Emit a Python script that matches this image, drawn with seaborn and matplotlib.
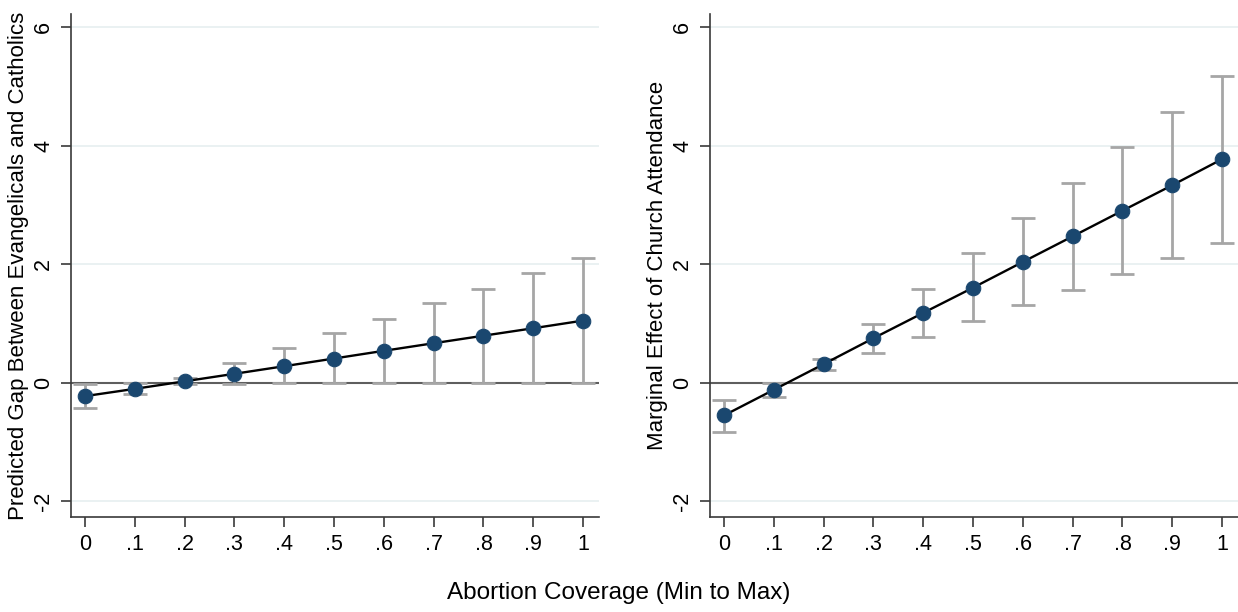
import matplotlib
matplotlib.use("Agg")
import matplotlib.pyplot as plt
import seaborn as sns
import pandas as pd

# Abortion coverage, scaled from minimum (0) to maximum (1)
coverage = [0.0, 0.1, 0.2, 0.3, 0.4, 0.5, 0.6, 0.7, 0.8, 0.9, 1.0]
coverage_labels = ["0", ".1", ".2", ".3", ".4", ".5", ".6", ".7", ".8", ".9", "1"]

# Predicted gap between Evangelicals and Catholics, with confidence bounds
gap = [-0.23, -0.107, 0.02, 0.147, 0.275, 0.405, 0.535, 0.663, 0.79, 0.916, 1.045]
gap_lo = [-0.43, -0.19, -0.03, -0.02, -0.01, -0.01, 0.0, 0.0, 0.0, 0.0, 0.0]
gap_hi = [-0.03, -0.005, 0.07, 0.33, 0.58, 0.83, 1.08, 1.34, 1.585, 1.84, 2.10]

# Marginal effect of church attendance, with confidence bounds
effect = [-0.556, -0.123, 0.31, 0.747, 1.175, 1.60, 2.035, 2.467, 2.90, 3.33, 3.77]
effect_lo = [-0.83, -0.25, 0.21, 0.50, 0.77, 1.03, 1.30, 1.56, 1.83, 2.10, 2.36]
effect_hi = [-0.29, -0.01, 0.405, 0.98, 1.58, 2.18, 2.78, 3.37, 3.975, 4.57, 5.18]

y_ticks = [-2, 0, 2, 4, 6]
y_tick_labels = ["-2", "0", "2", "4", "6"]

panels = [
    ("Predicted Gap Between Evangelicals and Catholics", gap, gap_lo, gap_hi),
    ("Marginal Effect of Church Attendance", effect, effect_lo, effect_hi),
]

sns.set_theme(style="white")
plt.rcParams["font.family"] = ["Liberation Sans", "DejaVu Sans"]

MARKER = "#1a476f"
CI_GREY = "#a6a6a6"
GRID = "#e8f0f1"
AXIS = "#3a3a3a"

fig = plt.figure(figsize=(12.38, 6.12), dpi=100)
fig.patch.set_facecolor("white")
ax_w = 528 / 1238
ax_h = 503 / 612
ax_b = 95 / 612
lefts = [71 / 1238, 710 / 1238]

for left, (ylabel, est, lo, hi) in zip(lefts, panels):
    ax = fig.add_axes([left, ax_b, ax_w, ax_h])
    df = pd.DataFrame({"coverage": coverage, "est": est, "lo": lo, "hi": hi})

    for yt in y_ticks:
        if yt != 0:
            ax.axhline(yt, color=GRID, lw=1.3, zorder=0)
    ax.axhline(0, color="#5e5e5e", lw=1.5, zorder=1)

    yerr = [df["est"] - df["lo"], df["hi"] - df["est"]]
    ax.errorbar(df["coverage"], df["est"], yerr=yerr, fmt="none",
                ecolor=CI_GREY, elinewidth=2.0, capsize=8.5, capthick=2.0,
                zorder=2)
    sns.lineplot(data=df, x="coverage", y="est", ax=ax, color="black",
                 lw=1.7, marker="o", markersize=10.5,
                 markerfacecolor=MARKER, markeredgecolor=MARKER,
                 zorder=3)

    ax.set_xlim(-0.028, 1.032)
    ax.set_ylim(-2.27, 6.22)
    ax.set_xticks(coverage)
    ax.set_xticklabels(coverage_labels)
    ax.set_yticks(y_ticks)
    ax.set_yticklabels(y_tick_labels, rotation=90, va="center")
    ax.tick_params(axis="both", which="major", length=7, width=1.2,
                   color=AXIS, labelsize=15.5, labelcolor="black", pad=5,
                   direction="out", bottom=True, left=True)
    for side in ("top", "right"):
        ax.spines[side].set_visible(False)
    for side in ("left", "bottom"):
        ax.spines[side].set_color(AXIS)
        ax.spines[side].set_linewidth(1.2)
    ax.set_xlabel("")
    ax.set_ylabel(ylabel, fontsize=16, color="black", labelpad=3)
    ax.grid(False)

fig.text(0.5, 19 / 612, "Abortion Coverage (Min to Max)", ha="center",
         va="center", fontsize=17.5, color="black")

fig.savefig("out.png", dpi=100, facecolor="white")
